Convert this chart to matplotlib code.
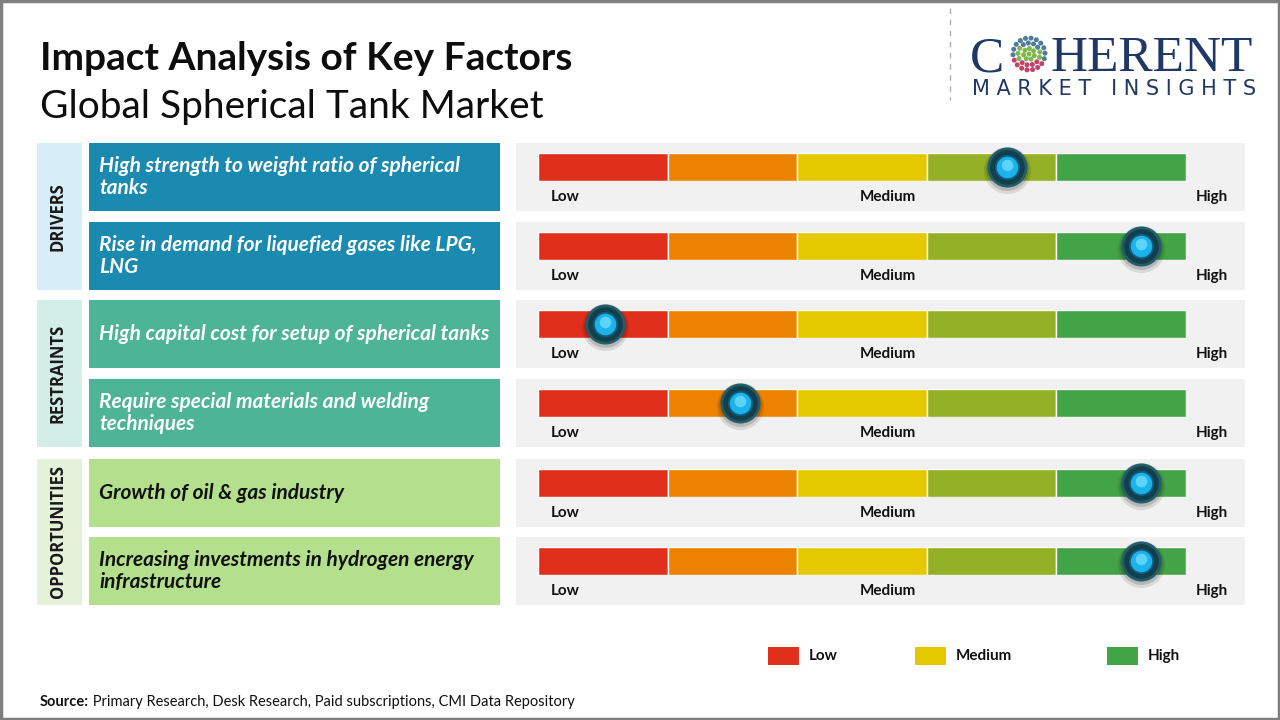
import matplotlib
matplotlib.use("Agg")
from matplotlib import pyplot as plt
from matplotlib.patches import Rectangle
import numpy as np

# Data
groups = ["DRIVERS", "RESTRAINTS", "OPPORTUNITIES"]
factors = [
    "High strength to weight ratio of spherical\ntanks",
    "Rise in demand for liquefied gases like LPG,\nLNG",
    "High capital cost for setup of spherical tanks",
    "Require special materials and welding\ntechniques",
    "Growth of oil & gas industry",
    "Increasing investments in hydrogen energy\ninfrastructure",
]
factor_group = [0, 0, 1, 1, 2, 2]
impact_score = [3.62, 4.65, 0.52, 1.56, 4.65, 4.65]   # position on 0-5 gauge
segment_colors = ["#e0301c", "#ec8200", "#e4c800", "#93b026", "#43a447"]
scale_labels = ["Low", "Medium", "High"]
legend_labels = ["Low", "Medium", "High"]
legend_colors = ["#e0301c", "#e4c800", "#43a447"]

group_bg = ["#d7edf7", "#d3eee6", "#e3f2d8"]
box_colors = ["#1a8ab0", "#4db497", "#b4e08e"]
box_text = ["white", "white", "#111111"]

W, H, dpi = 1280, 720, 100
fig = plt.figure(figsize=(W / dpi, H / dpi), dpi=dpi)
bg = fig.add_axes([0, 0, 1, 1])
bg.set_xlim(0, W)
bg.set_ylim(H, 0)
bg.axis("off")

FONT = "Lato"

# frame
bg.add_patch(Rectangle((1, 1), W - 2, H - 2, fill=False, ec="#7f7f7f", lw=2.5))

# titles
bg.text(40, 58, "Impact Analysis of Key Factors", fontsize=28, fontweight="bold",
        family=FONT, va="center", color="#0d0d0d")
bg.text(40, 107, "Global Spherical Tank Market", fontsize=28, family=FONT,
        va="center", color="#0d0d0d")

# logo
bg.plot([950, 950], [8, 100], ls=(0, (4, 4)), color="#b0b0b0", lw=1)
navy = "#1f3866"
bg.text(970, 71, "C", fontsize=37, family="Liberation Serif", color=navy, va="baseline")
bg.text(1051, 71, "HERENT", fontsize=37, family="Liberation Serif", color=navy, va="baseline")
# dotted globe for the "O"
dots_x, dots_y, dots_c = [], [], []
for r, n in [(0, 1), (5.5, 7), (11, 13), (16, 18)]:
    for k in range(n):
        a = 2 * np.pi * k / n + 0.3
        px, py = r * np.cos(a), r * np.sin(a)
        dots_x.append(1029 + px)
        dots_y.append(54 + py)
        if r < 7:
            dots_c.append("#7cb84a")
        elif py > 6:
            dots_c.append("#c3426a")
        elif r < 12 and abs(py) < 6:
            dots_c.append("#7cb84a")
        else:
            dots_c.append("#4e7c9c")
bg.scatter(dots_x, dots_y, s=13, c=dots_c, marker="o", lw=0)
bg.text(1114, 89, "M A R K E T   I N S I G H T S", fontsize=15, family="DejaVu Sans",
        color=navy, ha="center", va="center")

# rows
row_top = [143, 222, 300, 379, 459, 537]
row_h = 68
for g, name in enumerate(groups):
    idx = [i for i, fg in enumerate(factor_group) if fg == g]
    top = row_top[idx[0]]
    bot = row_top[idx[-1]] + row_h
    bg.add_patch(Rectangle((37, top), 45, bot - top, color=group_bg[g], lw=0))
    bg.text(58, (top + bot) / 2, name, rotation=90, ha="center", va="center",
            fontsize=12, fontweight="bold", family="Open Sans", color="#1a1a1a")

for i, txt in enumerate(factors):
    g = factor_group[i]
    top = row_top[i]
    bg.add_patch(Rectangle((89, top), 411, row_h, color=box_colors[g], lw=0))
    bg.text(99, top + row_h / 2, txt, fontsize=15, fontweight="bold", style="italic",
            family=FONT, color=box_text[g], va="center", ha="left", linespacing=1.1)

    # gauge panel
    bg.add_patch(Rectangle((516, top), 729, row_h, color="#f1f1f1", lw=0))
    bg.text(551, top + 54, scale_labels[0], fontsize=11, fontweight="bold",
            family=FONT, va="center", ha="left", color="#111111")
    bg.text(888, top + 54, scale_labels[1], fontsize=11, fontweight="bold",
            family=FONT, va="center", ha="center", color="#111111")
    bg.text(1212, top + 54, scale_labels[2], fontsize=11, fontweight="bold",
            family=FONT, va="center", ha="center", color="#111111")

    gax = fig.add_axes([538 / W, 1 - (top + 38) / H, 648 / W, 28 / H])
    gax.set_xlim(0, len(segment_colors))
    gax.set_ylim(0, 1)
    gax.axis("off")
    gax.barh(0.5, [1] * len(segment_colors), left=np.arange(len(segment_colors)),
             height=1, color=segment_colors, edgecolor="white", linewidth=1)
    s = impact_score[i]
    # knob: shadow, dark ring, cyan core
    gax.scatter([s], [0.40], s=1150, color="black", alpha=0.10, lw=0, clip_on=False, zorder=3)
    gax.scatter([s], [0.44], s=950, color="black", alpha=0.15, lw=0, clip_on=False, zorder=3)
    gax.scatter([s], [0.5], s=830, color="#245c69", lw=0, clip_on=False, zorder=4)
    gax.scatter([s], [0.5], s=620, color="#123f4b", lw=0, clip_on=False, zorder=5)
    gax.scatter([s], [0.5], s=330, color="#0c5c80", lw=0, clip_on=False, zorder=6)
    gax.scatter([s], [0.5], s=240, color="#1cb2ea", lw=0, clip_on=False, zorder=7)
    gax.scatter([s], [0.56], s=70, color="#6fdcff", alpha=0.8, lw=0, clip_on=False, zorder=8)

# legend
leg_x = [768, 915, 1107]
for x, lab, col in zip(leg_x, legend_labels, legend_colors):
    bg.add_patch(Rectangle((x, 647), 31, 18, color=col, lw=0))
    bg.text(x + 41, 656, lab, fontsize=11, fontweight="bold", family=FONT,
            va="center", color="#111111")

# source
t1 = bg.text(40, 702, "Source:", fontsize=10.5, fontweight="bold", family=FONT,
             va="center", color="#111111")
bg.annotate(" Primary Research, Desk Research, Paid subscriptions, CMI Data Repository",
            xy=(1, 0.5), xycoords=t1, va="center", ha="left", fontsize=10.5,
            family=FONT, color="#111111")

fig.savefig("out.png", dpi=dpi)
